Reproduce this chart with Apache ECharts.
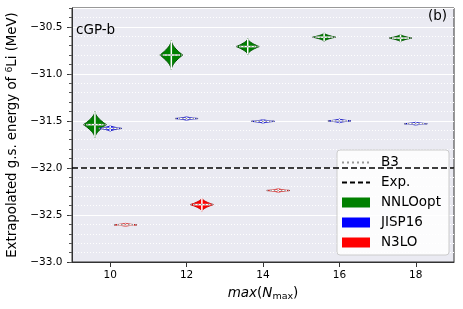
<!DOCTYPE html>
<html><head><meta charset="utf-8">
<script src="https://cdn.jsdelivr.net/npm/echarts@6/dist/echarts.min.js"></script>
<style>html,body{margin:0;padding:0;background:#fff}#c{width:463px;height:309px}</style>
</head><body><div id="c"></div>
<script>
// ---- data ----
const xNNLO = [9.6, 11.6, 13.6, 15.6, 17.6];
const yNNLO = [-31.54, -30.80, -30.71, -30.61, -30.62];
const hNNLO = [0.14, 0.155, 0.085, 0.045, 0.04];
const xJISP = [10, 12, 14, 16, 18];
const yJISP = [-31.58, -31.475, -31.505, -31.50, -31.53];
const hJISP = [0.03, 0.02, 0.02, 0.02, 0.015];
const xN3LO = [10.4, 12.4, 14.4];
const yN3LO = [-32.605, -32.39, -32.24];
const hN3LO = [0.01, 0.07, 0.02];
const expEnergy = -32.0;
const xTicks = [10, 12, 14, 16, 18];

const FONT = 'DejaVu Sans';
const HALFW = 0.3;

function zip(xs, ys, hs) { return xs.map((x, i) => [x, ys[i], hs[i]]); }

function violin(fill, edge) {
  return function (params, api) {
    const x = api.value(0), y = api.value(1), h = api.value(2);
    const c = api.coord([x, y]);
    const sx = api.size([HALFW, 0])[0];
    const sy = Math.max(api.size([0, h])[1], 1.5);
    const pts = [];
    const N = 24;
    for (let i = 0; i <= N; i++) {
      const t = -1 + 2 * i / N;
      pts.push([c[0] + sx * Math.pow(1 - Math.abs(t), 1.7), c[1] + t * sy]);
    }
    for (let i = N; i >= 0; i--) {
      const t = -1 + 2 * i / N;
      pts.push([c[0] - sx * Math.pow(1 - Math.abs(t), 1.7), c[1] + t * sy]);
    }
    return {
      type: 'group',
      children: [
        { type: 'polygon', shape: { points: pts }, style: { fill: fill, stroke: edge, lineWidth: 1 } },
        { type: 'line', shape: { x1: c[0], y1: c[1] - sy, x2: c[0], y2: c[1] + sy }, style: { stroke: '#fff', lineWidth: 1.5 } },
        { type: 'line', shape: { x1: c[0] - sx * 0.75, y1: c[1], x2: c[0] + sx * 0.75, y2: c[1] }, style: { stroke: '#fff', lineWidth: 1.5 } },
        { type: 'line', shape: { x1: c[0] - sx, y1: c[1], x2: c[0] + sx, y2: c[1] }, style: { stroke: '#999', lineWidth: 1.5, lineDash: [1.5, 2] } }
      ]
    };
  };
}

const chart = echarts.init(document.getElementById('c'), null, { renderer: 'canvas' });
const minus = v => v.toFixed(1).replace('-', '\u2212');
const hideSym = { color: 'rgba(0,0,0,0)', opacity: 0, borderWidth: 0 };

chart.setOption({
  animation: false,
  textStyle: { fontFamily: FONT },
  title: [
    { text: 'cGP-b', left: 71, top: 18, textStyle: { fontFamily: FONT, fontSize: 13.5, fontWeight: 'normal', color: '#000' } },
    { text: '(b)', right: 11, top: 4, textStyle: { fontFamily: FONT, fontSize: 13.5, fontWeight: 'normal', color: '#000' } }
  ],
  grid: { left: 72, right: 9, top: 8, bottom: 47, containLabel: false, outerBoundsMode: 'none',
    show: true, backgroundColor: '#EAEAF2', borderColor: '#333', borderWidth: 1 },
  legend: {
    orient: 'vertical', left: 337, top: 150,
    padding: [5, 8, 5, 4], itemWidth: 28, itemHeight: 10, itemGap: 5,
    backgroundColor: 'rgba(255,255,255,0.85)', borderColor: '#ccc', borderWidth: 1, borderRadius: 3,
    textStyle: { fontFamily: FONT, fontSize: 13.5, color: '#000', lineHeight: 15, padding: [0, 0, 0, 6] },
    data: [
      { name: 'B3', itemStyle: hideSym }, { name: 'Exp.', itemStyle: hideSym },
      { name: 'NNLOopt', icon: 'rect' }, { name: 'JISP16', icon: 'rect' }, { name: 'N3LO', icon: 'rect' }
    ]
  },
  xAxis: {
    type: 'value', min: 9, max: 19, interval: 1,
    name: '{it|max}({it|N}{sub|max})', nameLocation: 'middle', nameGap: 23,
    nameTextStyle: { fontFamily: FONT, fontSize: 13.5, color: '#000',
      rich: { it: { fontStyle: 'italic', fontSize: 13.5, fontFamily: FONT }, sub: { fontSize: 9.5, fontFamily: FONT, padding: [7, 0, 0, 0] } } },
    axisLine: { show: true, lineStyle: { color: '#333' } },
    axisTick: { show: true, length: 5, customValues: xTicks, lineStyle: { color: '#333' } },
    axisLabel: { fontFamily: FONT, fontSize: 10.5, color: '#000', margin: 8, customValues: xTicks, formatter: v => String(v) },
    splitLine: { show: false }
  },
  yAxis: [{
    type: 'value', min: -33, max: -30.3, interval: 0.5,
    name: 'Extrapolated g.s. energy of {sup|6}Li (MeV)', nameLocation: 'middle', nameGap: 48,
    nameTextStyle: { fontFamily: FONT, fontSize: 13.3, color: '#000', rich: { sup: { fontSize: 9.3, fontFamily: FONT, padding: [0, 0, 7, 0] } } },
    axisLine: { show: true, lineStyle: { color: '#333' } },
    axisTick: { show: true, length: 5, lineStyle: { color: '#333' } },
    axisLabel: { fontFamily: FONT, fontSize: 10.5, color: '#000', margin: 9.5, showMaxLabel: false, formatter: minus },
    splitLine: { show: true, lineStyle: { color: '#fff', width: 1 } }
  }, {
    type: 'value', min: -33, max: -30.3, interval: 0.1, position: 'left',
    axisLine: { show: false },
    axisTick: { show: true, length: 3, lineStyle: { color: '#555' } },
    axisLabel: { show: false },
    splitLine: { show: true, lineStyle: { color: '#fff', width: 1, type: [1, 2] } }
  }],
  series: [
    { name: 'B3', type: 'line', data: [], symbol: 'none', itemStyle: { color: '#999' }, lineStyle: { color: '#999', width: 2, type: [2, 3] } },
    { name: 'Exp.', type: 'line', data: [], symbol: 'none', itemStyle: { color: '#000' }, lineStyle: { color: '#000', width: 1.5, type: [5, 3] },
      markLine: { silent: true, symbol: 'none', label: { show: false }, lineStyle: { color: '#000', width: 1.5, type: [6, 3] }, data: [{ yAxis: expEnergy }] } },
    { name: 'NNLOopt', type: 'custom', renderItem: violin('#008000', '#005500'), itemStyle: { color: '#008000' }, data: zip(xNNLO, yNNLO, hNNLO), z: 5 },
    { name: 'JISP16', type: 'custom', renderItem: violin('#0000ff', '#0000bb'), itemStyle: { color: '#0000ff' }, data: zip(xJISP, yJISP, hJISP), z: 5 },
    { name: 'N3LO', type: 'custom', renderItem: violin('#ff0000', '#cc0000'), itemStyle: { color: '#ff0000' }, data: zip(xN3LO, yN3LO, hN3LO), z: 5 }
  ]
});
</script></body></html>
